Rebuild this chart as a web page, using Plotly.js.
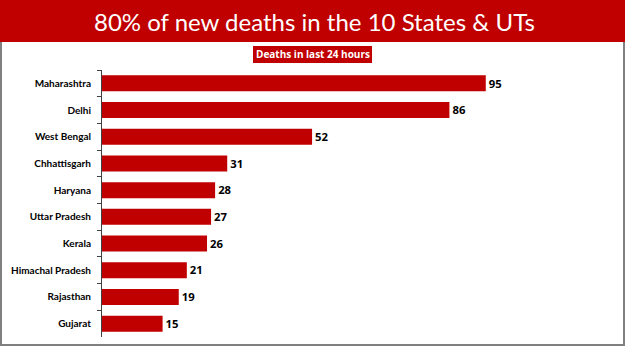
<!DOCTYPE html>
<html><head><meta charset="utf-8">
<script src="https://cdn.plot.ly/plotly-3.0.1.min.js"></script>
<style>html,body{margin:0;padding:0;background:#fff;}#chart{width:625px;height:351px;}</style>
</head><body><div id="chart"></div>
<script>
const states = ["Maharashtra","Delhi","West Bengal","Chhattisgarh","Haryana","Uttar Pradesh","Kerala","Himachal Pradesh","Rajasthan","Gujarat"];
const deaths = [95,86,52,31,28,27,26,21,19,15];
const chartTitle = "80% of new deaths in the 10 States &amp; UTs";
const subTitle = "Deaths in last 24 hours";

const W=625,H=351,L=102,R=35,T=70,B=14;
const pw=W-L-R, ph=H-T-B;
const px = p => (p-L)/pw;
const py = p => (H-B-p)/ph;
const red = "#C00000";

const trace = {
  type:"bar", orientation:"h", y:states, x:deaths,
  marker:{color:red}, width:0.6,
  text:deaths.map(String), textposition:"outside",
  textfont:{family:"Open Sans, Noto Sans, sans-serif", size:12, color:"#000", weight:700},
  cliponaxis:false, hoverinfo:"skip"
};
const layout = {
  width:W, height:H, margin:{l:L,r:R,t:T,b:B},
  paper_bgcolor:"#fff", plot_bgcolor:"#fff", showlegend:false,
  xaxis:{range:[0,120.8], visible:false, fixedrange:true},
  yaxis:{autorange:"reversed", showline:true, linecolor:"#404040", linewidth:1,
    ticks:"outside", tickson:"boundaries", ticklen:4, tickcolor:"#404040",
    tickfont:{family:"Lato, Open Sans, sans-serif", size:10, color:"#000", weight:700},
    ticklabelstandoff:8, showgrid:false, zeroline:false, fixedrange:true},
  shapes:[
    {type:"rect", xref:"paper", yref:"paper", x0:px(0), x1:px(625), y0:py(0), y1:py(42), fillcolor:red, line:{width:0}, layer:"below"},
    {type:"line", xref:"paper", yref:"paper", x0:px(1), x1:px(1), y0:py(42), y1:py(345), line:{color:"#808080", width:2}},
    {type:"line", xref:"paper", yref:"paper", x0:px(624), x1:px(624), y0:py(42), y1:py(345), line:{color:"#808080", width:2}},
    {type:"line", xref:"paper", yref:"paper", x0:px(0), x1:px(625), y0:py(345), y1:py(345), line:{color:"#808080", width:2}},
    {type:"rect", xref:"paper", yref:"paper", x0:px(253), x1:px(372), y0:py(46), y1:py(63), fillcolor:red, line:{width:0}}
  ],
  annotations:[
    {text:chartTitle, xref:"paper", yref:"paper", x:px(314), y:py(21), xanchor:"center", yanchor:"middle", showarrow:false,
     font:{family:"Lato, Open Sans, sans-serif", size:24, color:"#fff"}},
    {text:subTitle, xref:"paper", yref:"paper", x:px(312.5), y:py(54.5), xanchor:"center", yanchor:"middle", showarrow:false,
     font:{family:"Open Sans, Noto Sans, sans-serif", size:10, color:"#fff", weight:700}}
  ]
};
Plotly.newPlot("chart",[trace],layout,{displayModeBar:false,staticPlot:true});
</script></body></html>
